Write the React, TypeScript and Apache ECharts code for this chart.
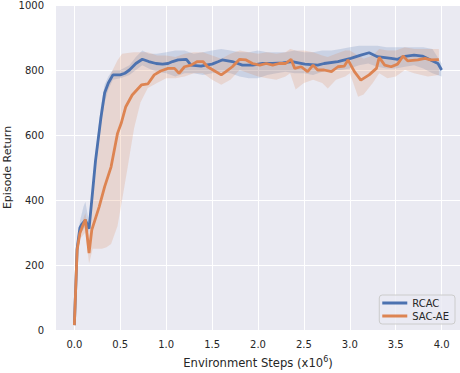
import React, { useEffect, useRef } from "react";
import * as echarts from "echarts";

// RCAC mean curve
const rcacX = [0, 0.03, 0.06, 0.08, 0.12, 0.16, 0.2, 0.23, 0.29, 0.33, 0.37, 0.42, 0.5, 0.55, 0.6, 0.67, 0.74, 0.81, 0.89, 0.96, 1.02, 1.07, 1.13, 1.22, 1.27, 1.38, 1.43, 1.5, 1.57, 1.61, 1.72, 1.83, 1.94, 2.05, 2.16, 2.27, 2.37, 2.51, 2.65, 2.72, 2.87, 3.01, 3.12, 3.21, 3.3, 3.45, 3.52, 3.58, 3.7, 3.79, 3.88, 3.96, 4.0];
const rcacY = [15, 250, 314, 325, 338, 312, 430, 520, 655, 730, 760, 785, 785, 790, 800, 820, 833, 826, 820, 818, 820, 826, 831, 833, 815, 812, 815, 818, 826, 831, 826, 815, 815, 820, 820, 822, 826, 818, 815, 820, 826, 836, 846, 853, 841, 836, 833, 841, 846, 843, 831, 820, 800];

// SAC-AE mean curve
const sacX = [0, 0.03, 0.06, 0.09, 0.12, 0.16, 0.19, 0.27, 0.33, 0.4, 0.47, 0.51, 0.56, 0.63, 0.73, 0.8, 0.87, 0.94, 1.02, 1.09, 1.14, 1.2, 1.27, 1.34, 1.4, 1.45, 1.51, 1.6, 1.65, 1.72, 1.8, 1.87, 1.94, 2.02, 2.09, 2.16, 2.23, 2.3, 2.36, 2.4, 2.47, 2.54, 2.6, 2.65, 2.72, 2.8, 2.87, 2.94, 2.98, 3.05, 3.12, 3.21, 3.29, 3.32, 3.38, 3.45, 3.52, 3.58, 3.63, 3.74, 3.82, 3.88, 3.97];
const sacY = [15, 246, 298, 320, 340, 237, 308, 379, 441, 502, 605, 636, 687, 723, 754, 757, 785, 797, 805, 805, 790, 810, 815, 826, 826, 810, 800, 785, 795, 810, 833, 831, 820, 815, 820, 815, 820, 820, 833, 805, 810, 795, 815, 800, 800, 795, 810, 812, 831, 795, 769, 785, 805, 839, 815, 810, 818, 843, 828, 831, 836, 831, 832];

// RCAC confidence band
const rcacBandX = [0, 0.03, 0.06, 0.1, 0.12, 0.16, 0.2, 0.23, 0.29, 0.33, 0.37, 0.42, 0.5, 0.6, 0.67, 0.74, 0.81, 0.9, 1.0, 1.1, 1.2, 1.3, 1.4, 1.5, 1.6, 1.7, 1.8, 1.9, 2.0, 2.1, 2.2, 2.3, 2.4, 2.5, 2.6, 2.7, 2.8, 2.9, 3.0, 3.1, 3.2, 3.3, 3.4, 3.5, 3.6, 3.7, 3.8, 3.9, 4.0];
const rcacLo = [10, 230, 295, 310, 320, 300, 410, 495, 630, 700, 740, 770, 775, 785, 800, 815, 805, 795, 790, 780, 790, 790, 785, 790, 795, 790, 780, 775, 775, 785, 790, 795, 790, 790, 785, 795, 800, 800, 805, 815, 820, 810, 805, 805, 810, 815, 805, 790, 780];
const rcacHi = [20, 265, 335, 380, 395, 330, 450, 545, 690, 755, 780, 800, 800, 815, 840, 860, 850, 850, 855, 860, 860, 850, 855, 860, 865, 860, 855, 855, 860, 855, 855, 855, 860, 855, 855, 860, 860, 865, 870, 875, 875, 875, 870, 870, 870, 870, 870, 865, 820];

// SAC-AE confidence band
const sacBandX = [0, 0.03, 0.06, 0.12, 0.16, 0.2, 0.25, 0.3, 0.35, 0.4, 0.47, 0.52, 0.58, 0.65, 0.72, 0.8, 0.9, 1.0, 1.1, 1.2, 1.3, 1.4, 1.5, 1.6, 1.7, 1.8, 1.9, 2.0, 2.1, 2.2, 2.3, 2.35, 2.41, 2.5, 2.6, 2.7, 2.76, 2.85, 2.95, 3.0, 3.09, 3.15, 3.25, 3.32, 3.41, 3.5, 3.6, 3.7, 3.85, 3.97];
const sacLo = [10, 230, 280, 300, 205, 250, 250, 250, 255, 265, 320, 400, 500, 620, 700, 745, 760, 775, 775, 780, 790, 790, 770, 755, 770, 800, 790, 780, 775, 770, 780, 790, 740, 760, 770, 760, 743, 770, 780, 790, 718, 725, 760, 790, 775, 780, 800, 790, 780, 785];
const sacHi = [20, 260, 315, 360, 290, 420, 560, 680, 750, 790, 830, 850, 852, 855, 855, 855, 845, 845, 840, 850, 855, 855, 845, 835, 850, 860, 855, 850, 855, 850, 855, 865, 860, 860, 855, 845, 840, 850, 860, 860, 845, 835, 845, 865, 860, 860, 870, 865, 865, 865];

const xTicks = [0, 0.5, 1, 1.5, 2, 2.5, 3, 3.5, 4];
const seriesNames = ["RCAC", "SAC-AE"];

const BLUE = "#4C72B0";
const ORANGE = "#DD8452";
const TEXT = "#262626";
const FONT = "DejaVu Sans";

function band(name: string, bx: number[], lo: number[], hi: number[], fill: string) {
  return {
    type: "custom",
    name: name + "-band",
    coordinateSystem: "cartesian2d",
    silent: true,
    clip: true,
    data: [[bx[0], lo[0]]],
    renderItem: (params: any, api: any) => {
      if (params.dataIndex !== 0) return null;
      const pts: number[][] = [];
      for (let i = 0; i < bx.length; i++) pts.push(api.coord([bx[i], hi[i]]));
      for (let i = bx.length - 1; i >= 0; i--) pts.push(api.coord([bx[i], lo[i]]));
      return { type: "polygon", shape: { points: pts }, style: { fill } };
    },
    z: 1,
  };
}

function zip(xs: number[], ys: number[]) {
  return xs.map((x, i) => [x, ys[i]]);
}

export default function App() {
  const ref = useRef<HTMLDivElement>(null);
  useEffect(() => {
    if (!ref.current) return;
    const chart = echarts.init(ref.current, undefined, { renderer: "svg" });
    chart.setOption({
      animation: false,
      textStyle: { fontFamily: FONT, color: TEXT },
      grid: {
        left: 56, right: 0, top: 5, bottom: 43,
        outerBoundsMode: "none",
        containLabel: false,
        show: true, backgroundColor: "#EAEAF2", borderWidth: 0,
      },
      legend: {
        data: seriesNames,
        right: 5, bottom: 49,
        orient: "vertical",
        icon: "rect",
        itemWidth: 25, itemHeight: 3, itemGap: 3, itemTextGap: 8,
        padding: [3, 6, 3, 3],
        backgroundColor: "rgba(234,234,242,0.8)",
        borderColor: "#cccccc", borderWidth: 1, borderRadius: 3,
        textStyle: { fontFamily: FONT, fontSize: 10, color: TEXT },
      },
      xAxis: {
        type: "value",
        min: -0.2, max: 4.2,
        name: "{a|Environment Steps (x10}{s|6}{a|)}",
        nameLocation: "middle",
        nameGap: 25,
        nameMoveOverlap: false,
        nameTextStyle: {
          rich: {
            a: { fontFamily: FONT, fontSize: 11.6, color: TEXT },
            s: { fontFamily: FONT, fontSize: 8, color: TEXT, padding: [0, 0, 7, 0] },
          },
        },
        axisLine: { show: false },
        axisTick: { show: false, customValues: xTicks },
        axisLabel: {
          customValues: xTicks,
          formatter: (v: number) => v.toFixed(1),
          fontFamily: FONT, fontSize: 10, color: TEXT, margin: 9,
        },
        splitLine: { show: true, lineStyle: { color: "#ffffff", width: 1 } },
      },
      yAxis: {
        type: "value",
        min: 0, max: 1000, interval: 200,
        name: "Episode Return",
        nameLocation: "middle",
        nameRotate: 90,
        nameGap: 43,
        nameMoveOverlap: false,
        nameTextStyle: { fontFamily: FONT, fontSize: 11, color: TEXT },
        axisLine: { show: false },
        axisTick: { show: false },
        axisLabel: {
          formatter: (v: number) => String(v),
          fontFamily: FONT, fontSize: 10, color: TEXT, margin: 12,
        },
        splitLine: { show: true, lineStyle: { color: "#ffffff", width: 1 } },
      },
      series: [
        band(seriesNames[0], rcacBandX, rcacLo, rcacHi, "rgba(76,114,176,0.2)"),
        band(seriesNames[1], sacBandX, sacLo, sacHi, "rgba(221,132,82,0.2)"),
        {
          type: "line", name: seriesNames[0], data: zip(rcacX, rcacY),
          showSymbol: false, symbol: "none", color: BLUE,
          lineStyle: { color: BLUE, width: 2.8 }, z: 3,
        },
        {
          type: "line", name: seriesNames[1], data: zip(sacX, sacY),
          showSymbol: false, symbol: "none", color: ORANGE,
          lineStyle: { color: ORANGE, width: 2.8 }, z: 4,
        },
      ],
    });
    return () => chart.dispose();
  }, []);
  return <div ref={ref} style={{ position: "absolute", left: 0, top: 0, width: 460, height: 373 }} />;
}
